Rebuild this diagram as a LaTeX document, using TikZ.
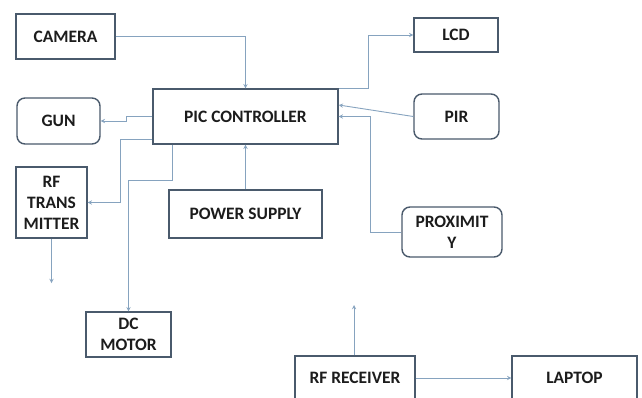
\documentclass[tikz,border=0pt]{standalone}
\usepackage{fontspec}
\setmainfont{Carlito}
\usepackage{tikz}
\usetikzlibrary{calc}
\definecolor{cbox}{HTML}{4A5A6C}
\definecolor{cline}{HTML}{86A3BF}
\definecolor{ctxt}{HTML}{1C1C1C}

\begin{document}
\begin{tikzpicture}[x=1bp,y=-1bp,>=stealth,
    blk/.style={draw=cbox,line width=1.4bp,text=ctxt,align=center,inner sep=0pt,
      font=\fontsize{17.5}{21}\selectfont\bfseries},
    rblk/.style={blk,rounded corners=8bp},
    wire/.style={cline,line width=0.9bp,->}]
  \clip (0,0) rectangle (642,397);
  \fill[white] (0,0) rectangle (642,397);
  \node[blk,minimum width=99bp,minimum height=45bp] (cam) at (65.5,36.5) {CAMERA};
  \node[rblk,minimum width=83bp,minimum height=46bp] (gun) at (58.5,121) {GUN};
  \node[blk,minimum width=185bp,minimum height=55bp] (pic) at (245.5,116.5) {PIC CONTROLLER};
  \node[blk,minimum width=71bp,minimum height=71bp] (rftx) at (51.5,202.5) {RF\\TRANS\\MITTER};
  \node[blk,minimum width=153bp,minimum height=48bp] (psu) at (245.5,214) {POWER SUPPLY};
  \node[blk,minimum width=85bp,minimum height=45bp] (dcm) at (128.5,334.5) {DC\\MOTOR};
  \node[blk,minimum width=84bp,minimum height=34bp] (lcd) at (456,35) {LCD};
  \node[rblk,minimum width=85bp,minimum height=45bp] (pir) at (456.5,116.5) {PIR};
  \node[rblk,minimum width=100bp,minimum height=50bp] (prox) at (452,232) {PROXIMIT\\Y};
  \node[blk,minimum width=120bp,minimum height=44bp] (rfrx) at (355,378) {RF RECEIVER};
  \node[blk,minimum width=125bp,minimum height=44bp] (lap) at (574.5,378) {LAPTOP};
  \coordinate (txend) at (51.5,283);
  \coordinate (rxend) at (354,305);
  \draw[wire] (cam.east) -| (pic.north);
  \draw[wire] (pic.west) -- ++(-26,0) |- (gun.east);
  \draw[wire] ([yshift=5bp]pic.south west) -- ++(-32,0) |- (rftx.east);
  \draw[wire] ([xshift=20bp]pic.south west) -- ++(0,36) -| (dcm.north);
  \draw[wire] (psu.north) -- (pic.south);
  \draw[wire] (pic.north east) -- ++(30,0) |- (lcd.west);
  \draw[wire] (pir.west) -- ([yshift=11.5bp]pic.east);
  \draw[wire] (prox.west) -- ++(-31,0) |- (pic.east);
  \draw[wire] (rftx.south) -- (txend);
  \draw[wire] (rfrx.north -| rxend) -- (rxend);
  \draw[wire] (rfrx.east) -- (lap.west);
\end{tikzpicture}
\end{document}
